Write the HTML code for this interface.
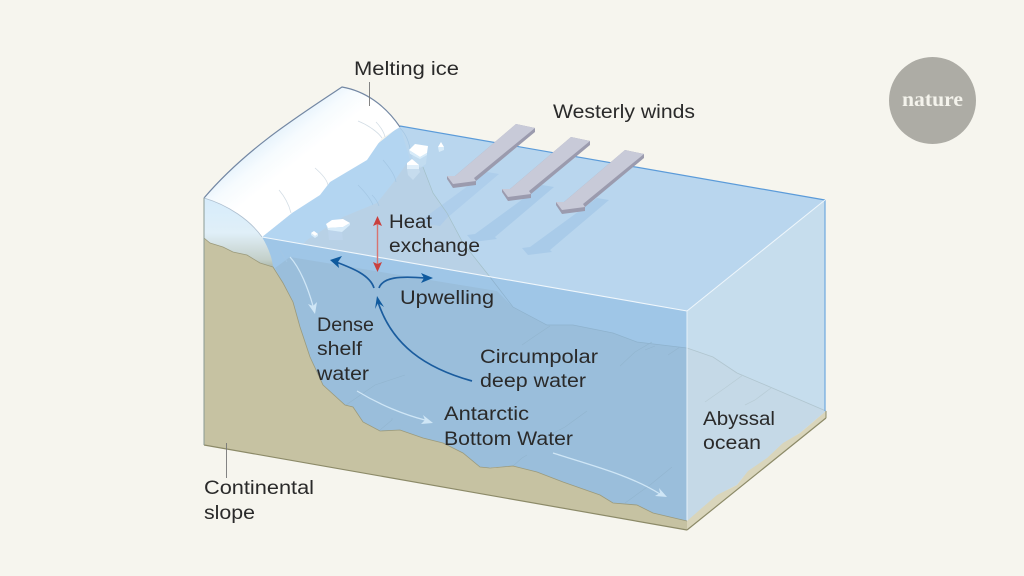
<!DOCTYPE html>
<html><head><meta charset="utf-8"><style>
html,body{margin:0;padding:0;background:#f6f5ee;width:1024px;height:576px;overflow:hidden}
svg{display:block}
text{font-family:"Liberation Sans",sans-serif;font-size:19px;fill:#2a2a2a}
</style></head><body>
<svg width="1024" height="576" viewBox="0 0 1024 576" xmlns="http://www.w3.org/2000/svg">
<defs>
<linearGradient id="ice" x1="262" y1="128" x2="292" y2="166" gradientUnits="userSpaceOnUse"><stop offset="0" stop-color="#dcedfa"/><stop offset="0.55" stop-color="#f6fbfe"/><stop offset="1" stop-color="#ffffff"/></linearGradient>
<linearGradient id="sec" x1="0" y1="198" x2="0" y2="268" gradientUnits="userSpaceOnUse"><stop offset="0" stop-color="#d6ecfb"/><stop offset="0.5" stop-color="#e0eff8"/><stop offset="0.88" stop-color="#c4d0ca"/><stop offset="1" stop-color="#a9b5a8"/></linearGradient>
</defs>
<rect width="1024" height="576" fill="#f6f5ee"/>

<!-- top surface -->
<polygon points="400,126 825,200 687,311 262,237" fill="#b9d6ee"/>
<!-- shelf lighter blue near ice -->
<polygon points="400,126 410,160 393,183 377,203 343,217 307,240 290,257 262,237 292,213 330,182" fill="#b3d5f1"/>
<!-- ridge seen through the surface -->
<polygon points="407,163 423,167 433,193 447,213 463,243 490,277 497,290 262,237 290,257 307,240 343,217 377,203 393,183" fill="#b8d1e6"/>
<!-- wind shadows -->
<g fill="#a9cbe9">
<polygon points="487,172 499,174 447,218 440,226 412,222 420,221" opacity=".7"/>
<polygon points="542,185 554,187 495,237 497,239 473,242 467,235 475,234"/>
<polygon points="597,198 609,200 550,250 552,252 528,255 522,248 530,247"/>
</g>
<polyline points="423,167 433,193 447,213 463,243 490,277" fill="none" stroke="#a3c0c8" stroke-width="0.7"/>

<!-- right side -->
<polygon points="825,200 825,412 687,522 687,311" fill="#c6dded"/>
<polygon points="687,348 713,357 737,373 770,387 826,411 813,422 800,433 783,443 767,458 748,471 737,485 717,495 703,507 687,521" fill="#c5d9e7"/>
<polyline points="687,348 713,357 737,373 770,387 826,411" fill="none" stroke="#b0c5cf" stroke-width="0.8"/>
<g fill="none" stroke="#b8ccd6" stroke-width="0.7">
<path d="M743,375 L725,388 705,402"/>
<path d="M771,388 L755,400 745,405"/>
</g>

<!-- front water -->
<polygon points="262,237 687,311 687,522 653,513 637,505 613,503 600,495 563,482 537,472 513,466 480,468 463,453 443,443 423,438 400,430 380,431 363,422 353,407 345,405 323,385 310,357 300,327 293,302 283,283 273,267" fill="#9fc6e7"/>
<polygon points="275,268 290,257 497,291 513,307 547,325 573,325 613,333 637,342 687,348 687,522 653,513 637,505 613,503 600,495 563,482 537,472 513,466 480,468 463,453 443,443 423,438 400,430 380,431 363,422 353,407 345,405 323,385 310,357 300,327 293,302 283,283" fill="#9abedb"/>
<polyline points="490,277 513,307 547,325 573,325 613,333 637,342 687,348" fill="none" stroke="#8eb2cd" stroke-width="0.7"/>
<g fill="none" stroke="#92b5cf" stroke-width="0.6">
<path d="M550,326 L535,336 522,345"/>
<path d="M652,342 L635,352 620,366"/>
<path d="M655,346 L645,350"/>
<path d="M680,347 L668,355"/>
<path d="M346,405 L375,385 405,375"/>
<path d="M380,430 L392,420 392,418"/>
<path d="M587,411 L565,427 540,440"/>
<path d="M513,466 L522,458 527,455"/>
<path d="M625,503 L650,485 672,467"/>
</g>

<!-- surface edges -->
<line x1="400" y1="126" x2="825" y2="200" stroke="#5b9bd9" stroke-width="1.2"/>
<line x1="825" y1="200" x2="825" y2="411" stroke="#6fa8df" stroke-width="1.2"/>
<line x1="262" y1="237" x2="687" y2="311" stroke="#f0f7fc" stroke-width="1.1"/>
<line x1="687" y1="311" x2="825" y2="200" stroke="#eef6fb" stroke-width="1"/>
<line x1="687" y1="311" x2="687" y2="521" stroke="#e6f1f9" stroke-width="1"/>

<!-- ice sheet -->
<path d="M204,198 C245,150 295,118 342,87 C365,91 385,105 400,127 L382,138 367,160 330,182 320,195 292,213 262,237 C245,215 225,205 204,198Z" fill="url(#ice)"/>
<path d="M204,198 C245,150 295,118 342,87 C365,91 385,105 400,127" fill="none" stroke="#7387a3" stroke-width="1.2"/>
<path d="M204,198 C228,205 250,220 262,237 C268,247 272,257 273,267 L260,263 247,255 233,252 223,247 210,243 204,238Z" fill="url(#sec)"/>
<path d="M204,198 C228,205 250,220 262,237" fill="none" stroke="#aebfcf" stroke-width="0.8"/>
<g fill="none" stroke="#d3dde5" stroke-width="0.8">
<path d="M358,121 C368,125 378,132 382,138"/>
<path d="M376,122 C380,126 384,132 385,137"/>
<path d="M315,168 C322,174 327,180 328,185"/>
<path d="M279,190 C285,197 289,205 291,213"/>
</g>
<g fill="none" stroke="#a4c7e4" stroke-width="0.7">
<path d="M383,160 C390,168 395,175 396,182"/>
<path d="M358,185 C365,192 371,200 373,205"/>
<path d="M372,195 C376,199 378,203 379,206"/>
<path d="M280,250 L287,262"/>
<path d="M400,128 C407,135 410,145 411,155"/>
</g>

<!-- icebergs -->
<polygon points="412,156 427,155 426,164 420,168 414,162" fill="#c8dff1" opacity=".6"/>
<polygon points="409,150 415,144 428,146 427,153 420,157" fill="#ffffff"/>
<polygon points="409,150 420,157 427,153 427,155 420,159 410,154" fill="#d7ebf9"/>
<polygon points="438,147 441,142 444,147" fill="#ffffff"/>
<polygon points="438,147 444,147 444,150 439,152" fill="#d7ebf9"/>
<polygon points="407,169 419,169 420,172 413,180 408,175" fill="#c6dcee"/>
<polygon points="407,163 412,159 419,165 407,165" fill="#ffffff"/>
<polygon points="407,165 419,165 419,169 407,169" fill="#e0effa"/>
<polygon points="328,230 342,232 343,240 329,240" fill="#bdd6ec" opacity=".7"/>
<polygon points="326,224 332,220 343,219 350,223 343,227 328,228" fill="#ffffff"/>
<polygon points="326,224 328,228 343,227 350,223 350,225 342,232 328,230" fill="#d7ebf9"/>
<polygon points="311,233 314,231 318,234 315,236" fill="#ffffff"/>
<polygon points="311,233 315,236 318,234 318,236 315,238 311,235" fill="#d7ebf9"/>

<!-- land front -->
<polygon points="204,238 210,243 223,247 233,252 247,255 260,263 273,267 283,283 293,302 300,327 310,357 323,385 345,405 353,407 363,422 380,431 400,430 423,438 443,443 463,453 480,467 490,468 513,466 537,472 563,482 600,495 613,503 637,505 653,513 687,521 687,530 204,445" fill="#c6c2a2"/>
<polyline points="204,238 210,243 223,247 233,252 247,255 260,263 273,267 283,283 293,302 300,327 310,357 323,385 345,405 353,407 363,422 380,431 400,430 423,438 443,443 463,453 480,467 490,468 513,466 537,472 563,482 600,495 613,503 637,505 653,513 687,521" fill="none" stroke="#9b9a7c" stroke-width="0.8"/>
<polygon points="687,521 703,507 717,495 737,485 748,471 767,458 783,443 800,433 813,422 826,411 826,418 687,530" fill="#d9d5bb"/>
<line x1="204" y1="445" x2="687" y2="530" stroke="#8c8a68" stroke-width="1.2"/>
<line x1="687" y1="530" x2="826" y2="418" stroke="#8c8a68" stroke-width="1.2"/>
<line x1="826" y1="411" x2="826" y2="418" stroke="#8c8a68" stroke-width="1"/>
<line x1="204" y1="198" x2="204" y2="445" stroke="#8b9a94" stroke-width="1"/>

<!-- wind arrows -->
<g>
<polygon points="447,176 455,176 516,124 535,128 535,132 476,181 476,185 453,188 447,179" fill="#9b9bae"/>
<polygon points="447,176 455,176 516,124 535,128 474,178 476,181 453,184" fill="#c8cad8"/>
</g>
<g transform="translate(55,13)">
<polygon points="447,176 455,176 516,124 535,128 535,132 476,181 476,185 453,188 447,179" fill="#9b9bae"/>
<polygon points="447,176 455,176 516,124 535,128 474,178 476,181 453,184" fill="#c8cad8"/>
</g>
<g transform="translate(109,26)">
<polygon points="447,176 455,176 516,124 535,128 535,132 476,181 476,185 453,188 447,179" fill="#9b9bae"/>
<polygon points="447,176 455,176 516,124 535,128 474,178 476,181 453,184" fill="#c8cad8"/>
</g>

<!-- red arrow -->
<line x1="377.500" y1="222" x2="377.500" y2="266" stroke="#d87470" stroke-width="1.4"/>
<polygon points="377.500,216 382,226 377.500,224 373,226" fill="#c9403e"/>
<polygon points="377.500,272 382,262 377.500,264 373,262" fill="#c9403e"/>

<!-- blue arrows -->
<g fill="none" stroke="#1a5c9e" stroke-width="1.7">
<path d="M374,288 C370,275 352,268 336,262"/>
<path d="M379,288 C383,277 400,276 425,278"/>
<path d="M472,381 C425,368 392,345 378,302"/>
</g>
<g fill="#0f5a9e">
<polygon points="330,260 342,256 338,262 339,268"/>
<polygon points="433,278 421,273 424,278 421,283"/>
<polygon points="377,296 384,307 378,303 375,309"/>
</g>

<!-- light arrows -->
<g fill="none" stroke="#cfe6f6" stroke-width="1.3">
<path d="M290,257 C300,268 308,288 313,306"/>
<path d="M357,391 C380,405 405,415 425,420"/>
<path d="M553,453 C590,465 630,475 660,494"/>
</g>
<g fill="#cfe6f6">
<polygon points="315,314 308,304 313,306 317,302"/>
<polygon points="433,423 421,424 425,420 423,415"/>
<polygon points="667,497 655,496 660,493 659,488"/>
</g>

<!-- leaders -->
<line x1="369.500" y1="82" x2="369.500" y2="106" stroke="#777" stroke-width="0.9"/>
<line x1="226.500" y1="443" x2="226.500" y2="478" stroke="#777" stroke-width="0.9"/>

<!-- labels -->
<text x="354" y="75" textLength="105" lengthAdjust="spacingAndGlyphs">Melting ice</text>
<text x="553" y="118" textLength="142" lengthAdjust="spacingAndGlyphs">Westerly winds</text>
<text x="389" y="228" textLength="43" lengthAdjust="spacingAndGlyphs">Heat</text>
<text x="389" y="252" textLength="91" lengthAdjust="spacingAndGlyphs">exchange</text>
<text x="400" y="304" textLength="94" lengthAdjust="spacingAndGlyphs">Upwelling</text>
<text x="317" y="331" textLength="57" lengthAdjust="spacingAndGlyphs">Dense</text>
<text x="317" y="355" textLength="45" lengthAdjust="spacingAndGlyphs">shelf</text>
<text x="317" y="380" textLength="52" lengthAdjust="spacingAndGlyphs">water</text>
<text x="480" y="363" textLength="118" lengthAdjust="spacingAndGlyphs">Circumpolar</text>
<text x="480" y="387" textLength="106" lengthAdjust="spacingAndGlyphs">deep water</text>
<text x="444" y="420" textLength="85" lengthAdjust="spacingAndGlyphs">Antarctic</text>
<text x="444" y="445" textLength="129" lengthAdjust="spacingAndGlyphs">Bottom Water</text>
<text x="703" y="425" textLength="72" lengthAdjust="spacingAndGlyphs">Abyssal</text>
<text x="703" y="449" textLength="58" lengthAdjust="spacingAndGlyphs">ocean</text>
<text x="204" y="494" textLength="110" lengthAdjust="spacingAndGlyphs">Continental</text>
<text x="204" y="519" textLength="51" lengthAdjust="spacingAndGlyphs">slope</text>

<!-- logo -->
<circle cx="932.500" cy="100.500" r="43.500" fill="#adaca5"/>
<text x="902" y="106" textLength="61" lengthAdjust="spacingAndGlyphs" style="font-family:'Liberation Serif',serif;font-size:20px;font-weight:bold;fill:#f4f3ec">nature</text>
</svg>
</body></html>
